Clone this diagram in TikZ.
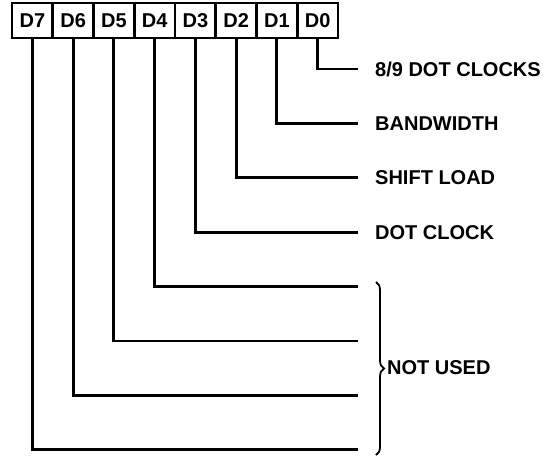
\documentclass[tikz,border=0pt]{standalone}
\usepackage{fontspec}
\setmainfont{Liberation Sans}
\usetikzlibrary{decorations.pathreplacing}
\begin{document}
\begin{tikzpicture}[x=1pt,y=-1pt,
  bitbox/.style={draw,line width=2.8pt,minimum width=40.75pt,minimum height=35pt,inner sep=0pt,font=\bfseries\fontsize{20}{20}\selectfont},
  wire/.style={line width=2.8pt,line join=miter},
  lbl/.style={anchor=west,inner sep=0pt,font=\bfseries\fontsize{20}{20}\selectfont}]
\useasboundingbox (0,0) rectangle (556,456);
\foreach \i in {0,...,7}{
  \node[bitbox] (b\i) at ({12+40.75*(7-\i)+20.375},20.5) {D\i};
  \coordinate (e\i) at (358,{69+54.4*\i});
}
\foreach \i in {0,...,7}{
  \draw[wire] (b\i.south) |- (e\i);
}
\node[lbl] (l0) at (375,69) {8/9 DOT CLOCKS};
\node[lbl] (l1) at (375,123.4) {BANDWIDTH};
\node[lbl] (l2) at (375,177.8) {SHIFT LOAD};
\node[lbl] (l3) at (375,232.2) {DOT CLOCK};
\coordinate (bt) at (376,282);
\coordinate (bb) at (376,455);
\draw[line width=1.8pt,decorate,decoration={brace,amplitude=8pt,raise=0pt}] (bt) -- (bb);
\node[lbl] (nu) at (387,368) {NOT USED};
\end{tikzpicture}
\end{document}
